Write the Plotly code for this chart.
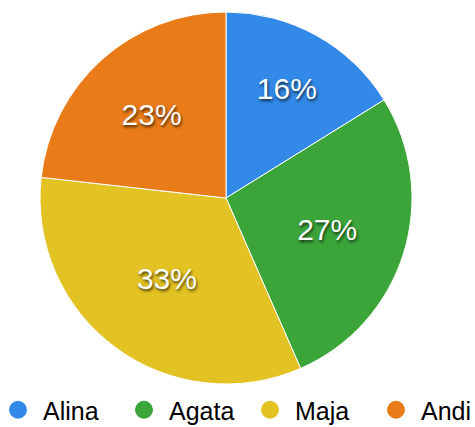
import plotly.graph_objects as go

names = ["Alina", "Agata", "Maja", "Andi"]
values = [16, 27, 33, 23]
colors = ["#3289e8", "#3ba53a", "#e3c223", "#e97c18"]

W, H, B = 500, 427, 40
PH = H - B  # plot-area height

fig = go.Figure()
fig.add_trace(go.Pie(
    labels=names, values=values, sort=False, direction="clockwise", rotation=0,
    marker=dict(colors=colors, line=dict(color="white", width=1)),
    texttemplate="%{value}%", textposition="inside", insidetextorientation="horizontal",
    textfont=dict(family="Liberation Sans, Arial", size=30, color="white",
                  shadow="1px 2px 3px rgba(0,0,0,0.7)"),
    showlegend=False, hoverinfo="label+percent",
    domain=dict(x=[40 / W, 412 / W], y=[(PH - 384) / PH, (PH - 12) / PH]),
))
for n, c in zip(names, colors):
    fig.add_trace(go.Scatter(x=[None], y=[None], mode="markers", name=n,
                             marker=dict(symbol="circle", size=16, color=c,
                                         line=dict(color=c, width=2))))

fig.update_layout(
    width=W, height=H,
    margin=dict(l=0, r=0, t=0, b=B, autoexpand=False),
    paper_bgcolor="white", plot_bgcolor="white",
    xaxis=dict(visible=False), yaxis=dict(visible=False),
    legend=dict(orientation="h", x=-7 / W, xanchor="left", y=(PH - 410) / PH, yanchor="middle",
                itemwidth=40, entrywidth=71, entrywidthmode="pixels",
                font=dict(family="Liberation Sans, Arial", size=25, color="black"),
                bgcolor="rgba(0,0,0,0)"),
)
fig.write_html(
    "out.html",
    config={"displayModeBar": False},
    post_script="document.body.style.margin='0';document.documentElement.style.overflow='hidden';",
)
